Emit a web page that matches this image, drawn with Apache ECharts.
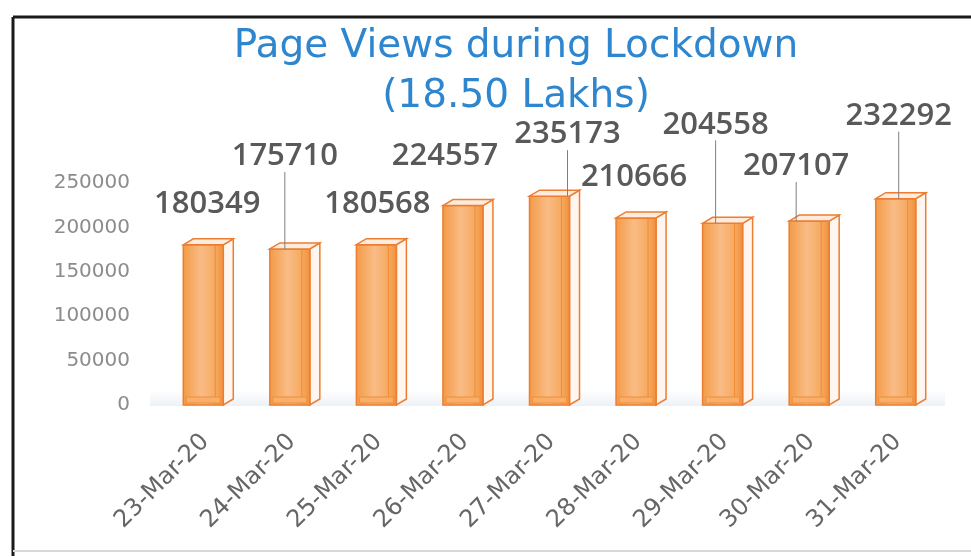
<!DOCTYPE html>
<html>
<head>
<meta charset="utf-8">
<script src="https://cdn.jsdelivr.net/npm/echarts@6/dist/echarts.min.js"></script>
<style>
  html, body { margin: 0; padding: 0; background: #fff; }
  #chart { width: 971px; height: 558px; }
</style>
</head>
<body>
<div id="chart"></div>
<script>
"use strict";

// data
var days = ["23-Mar-20", "24-Mar-20", "25-Mar-20", "26-Mar-20", "27-Mar-20",
            "28-Mar-20", "29-Mar-20", "30-Mar-20", "31-Mar-20"];
var views = [180349, 175710, 180568, 224557, 235173, 210666, 204558, 207107, 232292];
var yTicks = [0, 50000, 100000, 150000, 200000, 250000];
var hasLeader = [false, true, false, false, true, false, true, true, true];

// where the value labels sit, relative to their default spot above the bar
var labelShift = [[2, -20], [-7, -72], [-1, -20], [-20, -29], [16, -41],
                  [-4, -20], [-9, -78], [-15, -34], [1, -62]];

var chart = echarts.init(document.getElementById("chart"));

function renderBox(params, api) {
  var top = api.coord([api.value(0), api.value(1)]);
  var base = api.coord([api.value(0), 0]);
  var w = 40, d = 10, up = 6;
  var x = top[0] - 22;
  var y = top[1];
  var h = base[1] - top[1];
  var edge = "#ED7D31";
  return {
    type: "group",
    children: [
      {
        type: "polygon",
        shape: { points: [[x + w, y], [x + w + d, y - up], [x + w + d, base[1] - up], [x + w, base[1]]] },
        style: { fill: "#FFF6EF", stroke: edge, lineWidth: 1.5 }
      },
      {
        type: "rect",
        shape: { x: x, y: y, width: w, height: h },
        style: {
          fill: new echarts.graphic.LinearGradient(0, 0, 1, 0, [
            { offset: 0, color: "#F39A45" },
            { offset: 0.45, color: "#F9BC86" },
            { offset: 0.8, color: "#F6A95F" },
            { offset: 1, color: "#F08E3A" }
          ]),
          stroke: edge,
          lineWidth: 1.5
        }
      },
      {
        type: "line",
        shape: { x1: x + w - 8, y1: y, x2: x + w - 8, y2: base[1] },
        style: { stroke: "#F08A35", lineWidth: 1 }
      },
      {
        type: "polygon",
        shape: { points: [[x, y], [x + d, y - up], [x + w + d, y - up], [x + w, y]] },
        style: { fill: "#FDEBDD", stroke: edge, lineWidth: 1.5 }
      },
      {
        type: "rect",
        shape: { x: x + 3, y: base[1] - 8, width: w - 6, height: 6 },
        style: { fill: "#F7B06C", stroke: "#F28C36", lineWidth: 1 }
      }
    ]
  };
}

chart.setOption({
  animation: false,
  backgroundColor: "#fff",
  title: {
    text: "Page Views during Lockdown\n(18.50 Lakhs)",
    left: 511,
    top: 17,
    textAlign: "center",
    textStyle: {
      color: "#2E86CF",
      fontFamily: "DejaVu Sans",
      fontWeight: "normal",
      fontSize: 39,
      lineHeight: 50
    }
  },
  graphic: [
    {
      type: "rect",
      shape: { x: 150, y: 390, width: 795, height: 16 },
      style: {
        fill: new echarts.graphic.LinearGradient(0, 0, 0, 1, [
          { offset: 0, color: "rgba(215,225,235,0)" },
          { offset: 1, color: "rgba(215,225,235,0.45)" }
        ])
      },
      z: 0
    },
    { type: "line", shape: { x1: 13, y1: 17, x2: 971, y2: 17 }, style: { stroke: "#1a1a1a", lineWidth: 3 } },
    { type: "line", shape: { x1: 13, y1: 17, x2: 13, y2: 556 }, style: { stroke: "#1a1a1a", lineWidth: 3 } },
    { type: "line", shape: { x1: 13, y1: 551, x2: 971, y2: 551 }, style: { stroke: "#d8d8d8", lineWidth: 2 } }
  ],
  grid: { left: 162, right: 30, top: 183, bottom: 153 },
  xAxis: {
    type: "category",
    data: days,
    axisLine: { show: false },
    axisTick: { show: false },
    axisLabel: {
      rotate: 45,
      margin: 33,
      color: "#666",
      fontFamily: "DejaVu Sans",
      fontSize: 24
    }
  },
  yAxis: {
    type: "value",
    min: yTicks[0],
    max: yTicks[yTicks.length - 1],
    interval: yTicks[1] - yTicks[0],
    splitLine: { show: false },
    axisLine: { show: false },
    axisTick: { show: false },
    axisLabel: {
      margin: 32,
      color: "#8c8c8c",
      fontFamily: "DejaVu Sans",
      fontSize: 20,
      formatter: function (v) { return String(v); }
    }
  },
  series: [
    {
      type: "custom",
      renderItem: renderBox,
      encode: { x: 0, y: 1 },
      data: views.map(function (v, i) { return [i, v]; }),
      z: 2
    },
    {
      type: "bar",
      data: views.map(function (v, i) {
        return { value: v, labelLine: { show: hasLeader[i] } };
      }),
      barWidth: 40,
      itemStyle: { color: "rgba(0,0,0,0)" },
      label: {
        show: true,
        position: "top",
        color: "#595959",
        fontFamily: "Open Sans",
        fontWeight: 600,
        fontSize: 31
      },
      labelLayout: function (p) {
        return { dx: labelShift[p.dataIndex][0], dy: labelShift[p.dataIndex][1] };
      },
      labelLine: {
        lineStyle: { color: "#7f7f7f", width: 1 }
      },
      z: 3
    }
  ]
});
</script>
</body>
</html>
